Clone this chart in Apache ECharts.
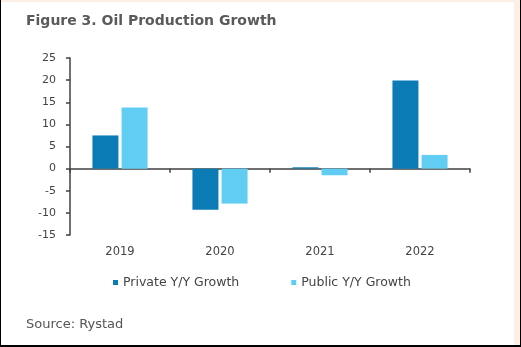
<!DOCTYPE html>
<html>
<head>
<meta charset="utf-8">
<script src="https://cdn.jsdelivr.net/npm/echarts@6/dist/echarts.min.js"></script>
<style>
  html, body { margin: 0; padding: 0; background: #fff; }
  #wrap { position: relative; width: 521px; height: 347px; overflow: hidden; }
  #chart { position: absolute; left: 0; top: 0; width: 521px; height: 347px; }
  .ov { position: absolute; pointer-events: none; }
</style>
</head>
<body>
<div id="wrap">
  <div id="chart"></div>
  <div class="ov" style="left:0;top:0;width:521px;height:2px;background:#fcefe6;"></div>
  <div class="ov" style="left:514px;top:0;width:6px;height:347px;background:#fcefe6;"></div>
  <div class="ov" style="left:520px;top:0;width:1px;height:347px;background:#000;"></div>
  <div class="ov" style="left:0;top:0;width:1px;height:347px;background:#000;"></div>
  <div class="ov" style="left:0;top:345px;width:521px;height:2px;background:#000;"></div>
</div>
<script>
const categories = ['2019', '2020', '2021', '2022'];
const privateGrowth = [7.5, -9.3, 0.3, 19.9];
const publicGrowth = [13.8, -7.9, -1.5, 3.1];
const yMin = -15, yMax = 25, yStep = 5;
const titleText = 'Figure 3. Oil Production Growth';
const sourceText = 'Source: Rystad';
const seriesNames = ['Private Y/Y Growth', 'Public Y/Y Growth'];

const chart = echarts.init(document.getElementById('chart'), null, { renderer: 'canvas' });
const font = '"DejaVu Sans", "Noto Sans", sans-serif';
const axisColor = '#404040';
chart.setOption({
  animation: false,
  backgroundColor: '#ffffff',
  textStyle: { fontFamily: font },
  title: [
    { text: titleText, left: 21, top: 9,
      textStyle: { fontSize: 14, fontWeight: 'bold', color: '#5a5a5a', fontFamily: font } },
    { text: sourceText, left: 21, top: 313,
      textStyle: { fontSize: 13, fontWeight: 'normal', color: '#555555', fontFamily: font } }
  ],
  legend: {
    left: 108, top: 271,
    itemWidth: 5, itemHeight: 5, itemGap: 52,
    icon: 'rect',
    textStyle: { fontSize: 12.5, color: '#444444', fontFamily: font },
    data: seriesNames
  },
  grid: { left: 70, right: 51, top: 58, bottom: 112 },
  xAxis: [
    {
      type: 'category', data: categories, position: 'bottom',
      axisLine: { show: true, onZero: true, lineStyle: { color: axisColor, width: 1.5 } },
      axisTick: { show: true, length: 4, lineStyle: { color: axisColor, width: 1.5 } },
      axisLabel: { show: false }
    },
    {
      type: 'category', data: categories, position: 'bottom',
      axisLine: { show: false, onZero: false },
      axisTick: { show: false },
      axisLabel: { show: true, margin: 11, fontSize: 11.5, color: '#444444', fontFamily: font }
    }
  ],
  yAxis: {
    type: 'value', min: yMin, max: yMax, interval: yStep,
    axisLine: { show: true, lineStyle: { color: axisColor, width: 1.5 } },
    axisTick: { show: true, length: 4, inside: false, lineStyle: { color: axisColor, width: 1.5 } },
    splitLine: { show: false },
    axisLabel: { margin: 14, fontSize: 11, color: '#444444', fontFamily: font }
  },
  series: [
    { name: seriesNames[0], type: 'bar', data: privateGrowth, xAxisIndex: 0,
      barWidth: 26, barGap: '12%', itemStyle: { color: '#0b7bb5' } },
    { name: seriesNames[1], type: 'bar', data: publicGrowth, xAxisIndex: 0,
      barWidth: 26, barGap: '12%', itemStyle: { color: '#62cdf3' } }
  ]
});
</script>
</body>
</html>
